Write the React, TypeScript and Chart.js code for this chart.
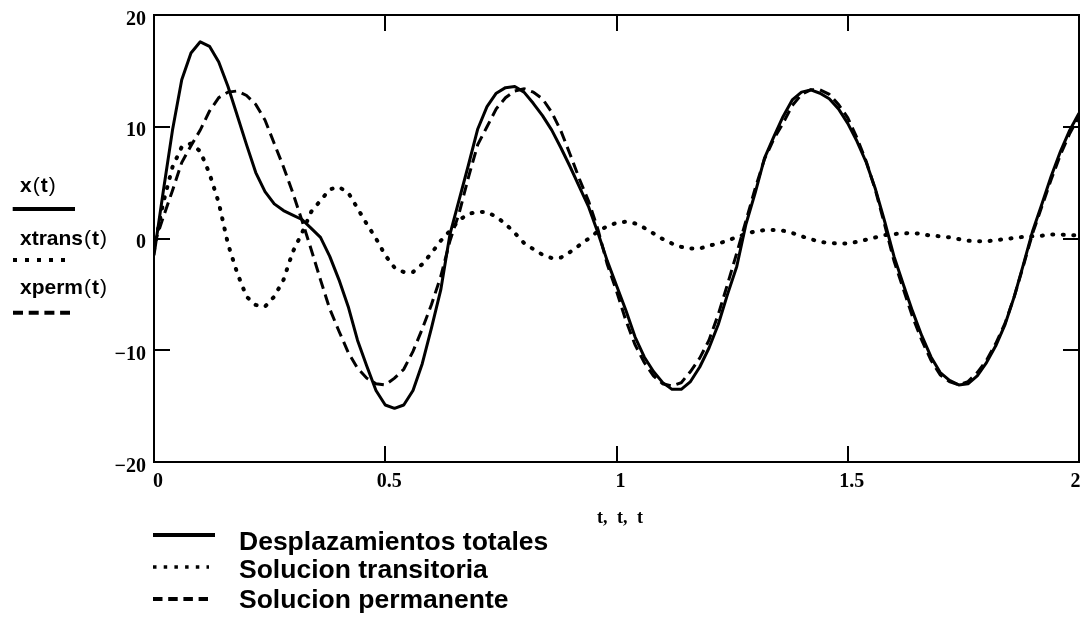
import React, { useEffect, useRef } from "react";
import { Chart, registerables } from "chart.js";

Chart.register(...registerables);

// time samples (s)
const tValues = [
  0, 0.02, 0.04, 0.06, 0.08, 0.1, 0.12, 0.14, 0.16, 0.18,
  0.2, 0.22, 0.24, 0.26, 0.28, 0.3, 0.32, 0.34, 0.36, 0.38,
  0.4, 0.42, 0.44, 0.46, 0.48, 0.5, 0.52, 0.54, 0.56, 0.58,
  0.6, 0.62, 0.64, 0.66, 0.68, 0.7, 0.72, 0.74, 0.76, 0.78,
  0.8, 0.82, 0.84, 0.86, 0.88, 0.9, 0.92, 0.94, 0.96, 0.98,
  1.0, 1.02, 1.04, 1.06, 1.08, 1.1, 1.12, 1.14, 1.16, 1.18,
  1.2, 1.22, 1.24, 1.26, 1.28, 1.3, 1.32, 1.34, 1.36, 1.38,
  1.4, 1.42, 1.44, 1.46, 1.48, 1.5, 1.52, 1.54, 1.56, 1.58,
  1.6, 1.62, 1.64, 1.66, 1.68, 1.7, 1.72, 1.74, 1.76, 1.78,
  1.8, 1.82, 1.84, 1.86, 1.88, 1.9, 1.92, 1.94, 1.96, 1.98,
  2.0,
];

// x(t): desplazamientos totales
const xTotal = [
  -1.5, 4.2, 9.7, 14.2, 16.6, 17.6, 17.2, 15.8, 13.6, 11.0,
  8.4, 5.9, 4.2, 3.1, 2.5, 2.1, 1.7, 0.9, 0.1, -1.6,
  -3.7, -6.1, -9.1, -11.4, -13.6, -14.9, -15.2, -14.9, -13.6, -11.2,
  -8.0, -4.6, 0.4, 3.5, 6.6, 9.8, 11.8, 13.0, 13.5, 13.6,
  13.1, 12.1, 11.0, 9.7, 8.1, 6.4, 4.6, 2.8, 0.5, -2.0,
  -4.2, -6.4, -8.8, -10.6, -11.9, -12.9, -13.5, -13.5, -12.8, -11.5,
  -9.8, -7.7, -5.0, -2.5, 1.3, 4.1, 7.2, 9.1, 10.9, 12.4,
  13.1, 13.3, 13.0, 12.5, 11.6, 10.3, 8.7, 6.8, 4.4, 1.5,
  -1.6, -4.1, -6.5, -8.7, -10.6, -12.0, -12.7, -13.1, -13.0, -12.3,
  -11.1, -9.6, -7.7, -5.2, -2.3, 0.7, 3.1, 5.6, 7.8, 9.7,
  11.2,
];

// xtrans(t): solucion transitoria
const xTrans = [
  -1.0, 3.2, 6.4, 8.2, 8.5, 7.8, 5.8, 3.2, -0.5, -3.1,
  -5.2, -5.95, -6.1, -5.2, -3.7, -1.2, 0.5, 2.4, 3.4, 4.4,
  4.6, 4.1, 2.7, 1.3, 0.0, -1.5, -2.6, -3.0, -3.0, -2.3,
  -1.3, -0.2, 0.7, 1.65, 2.2, 2.4, 2.35, 1.95, 1.3, 0.5,
  -0.4, -0.95, -1.45, -1.75, -1.7, -1.2, -0.6, 0.0, 0.65, 1.1,
  1.4, 1.5, 1.35, 0.95, 0.45, -0.05, -0.45, -0.75, -0.9, -0.9,
  -0.65, -0.45, -0.2, 0.15, 0.4, 0.65, 0.75, 0.75, 0.7, 0.5,
  0.2, -0.05, -0.3, -0.4, -0.45, -0.45, -0.3, -0.1, 0.1, 0.3,
  0.4, 0.45, 0.5, 0.4, 0.25, 0.2, 0.1, -0.05, -0.2, -0.25,
  -0.25, -0.15, -0.05, 0.05, 0.15, 0.2, 0.25, 0.35, 0.35, 0.3,
  0.3,
];

// xperm(t): solucion permanente
const xPerm = [
  -0.6, 1.9, 4.3, 6.8, 8.3, 9.7, 11.4, 12.6, 13.1, 13.2,
  12.8, 12.0, 10.6, 8.5, 6.4, 4.1, 1.6, -1.0, -3.7, -6.3,
  -8.3, -10.2, -11.6, -12.5, -13.0, -13.1, -12.5, -11.7, -10.1, -8.1,
  -5.9, -3.4, -0.2, 2.3, 5.5, 8.4, 10.0, 11.6, 12.6, 13.2,
  13.4, 13.1, 12.5, 11.3, 9.6, 7.5, 5.3, 3.3, 0.8, -2.3,
  -4.7, -7.3, -9.5, -11.1, -12.3, -13.0, -13.2, -12.9, -11.9, -10.7,
  -9.1, -6.8, -4.1, -1.3, 1.6, 4.5, 7.1, 8.9, 10.3, 11.9,
  12.9, 13.3, 13.3, 12.9, 12.0, 10.8, 9.0, 6.9, 4.3, 1.2,
  -2.0, -4.5, -7.0, -9.1, -10.9, -12.2, -12.8, -13.1, -12.8, -12.0,
  -10.9, -9.4, -7.6, -5.2, -2.4, 0.5, 2.9, 5.3, 7.5, 9.4,
  10.9,
];

const seriesNames = ["Desplazamientos totales", "Solucion transitoria", "Solucion permanente"];
const axisNames = ["x", "xtrans", "xperm"];
const xTickValues = [0, 0.5, 1, 1.5, 2];
const xTickLabels = ["0", "0.5", "1", "1.5", "2"];
const yTickValues = [-20, -10, 0, 10, 20];
const yTickLabels = ["\u221220", "\u221210", "0", "10", "20"];
const xAxisTitle = "t, t, t";

const SERIF = "'Liberation Serif', 'Times New Roman', serif";
const SANS = "'Liberation Sans', Arial, sans-serif";

const framePlugin = {
  id: "frameTicks",
  afterDatasetsDraw(chart: any) {
    const { ctx, chartArea, scales } = chart;
    const { left, right, top, bottom } = chartArea;
    const len = 16;
    ctx.save();
    ctx.strokeStyle = "#000";
    ctx.lineWidth = 2;
    ctx.strokeRect(left, top, right - left, bottom - top);
    ctx.beginPath();
    scales.x.ticks.forEach((t: any) => {
      const px = Math.round(scales.x.getPixelForValue(t.value));
      ctx.moveTo(px, bottom);
      ctx.lineTo(px, bottom - len);
      ctx.moveTo(px, top);
      ctx.lineTo(px, top + len);
    });
    scales.y.ticks.forEach((t: any) => {
      const py = Math.round(scales.y.getPixelForValue(t.value));
      ctx.moveTo(left, py);
      ctx.lineTo(left + len, py);
      ctx.moveTo(right, py);
      ctx.lineTo(right - len, py);
    });
    ctx.stroke();
    ctx.restore();
  },
};

const toPoints = (ys: number[]) => tValues.map((t, i) => ({ x: t, y: ys[i] }));

const zeroPadding = (s: any) => {
  s.paddingTop = 0;
  s.paddingBottom = 0;
  s.paddingLeft = 0;
  s.paddingRight = 0;
};

function FnLabel({ name, top }: { name: string; top: number }) {
  return (
    <div
      style={{
        position: "absolute",
        left: 20,
        top,
        fontFamily: SANS,
        fontSize: 21,
        lineHeight: "21px",
        fontWeight: "bold",
        whiteSpace: "nowrap",
        color: "#000",
      }}
    >
      {name}
      <span style={{ fontWeight: "normal", marginLeft: 1 }}>(</span>
      <span style={{ margin: "0 1px" }}>t</span>
      <span style={{ fontWeight: "normal" }}>)</span>
    </div>
  );
}

function LegendText({ text, top }: { text: string; top: number }) {
  return (
    <div
      style={{
        position: "absolute",
        left: 239,
        top,
        fontFamily: SANS,
        fontSize: 26.5,
        lineHeight: "26.5px",
        fontWeight: "bold",
        whiteSpace: "nowrap",
        color: "#000",
      }}
    >
      {text}
    </div>
  );
}

export default function App() {
  const canvasRef = useRef<HTMLCanvasElement | null>(null);

  useEffect(() => {
    if (!canvasRef.current) return;
    const chart = new Chart(canvasRef.current, {
      type: "line",
      data: {
        datasets: [
          {
            label: seriesNames[0],
            data: toPoints(xTotal),
            borderColor: "#000",
            borderWidth: 3,
            pointRadius: 0,
            tension: 0,
            borderJoinStyle: "round",
            fill: false,
          },
          {
            label: seriesNames[1],
            data: toPoints(xTrans),
            borderColor: "#000",
            borderWidth: 4,
            borderDash: [1, 9.5],
            borderCapStyle: "round",
            pointRadius: 0,
            tension: 0,
            fill: false,
          },
          {
            label: seriesNames[2],
            data: toPoints(xPerm),
            borderColor: "#000",
            borderWidth: 3,
            borderDash: [11, 6],
            borderCapStyle: "butt",
            pointRadius: 0,
            tension: 0,
            fill: false,
          },
        ],
      },
      options: {
        animation: false,
        responsive: false,
        devicePixelRatio: 1,
        layout: { padding: { left: 0, top: 15, right: 10, bottom: 0 } },
        plugins: { legend: { display: false }, tooltip: { enabled: false } },
        scales: {
          x: {
            type: "linear",
            min: 0,
            max: 2,
            afterBuildTicks: (s: any) => {
              s.ticks = xTickValues.map((v) => ({ value: v }));
            },
            afterFit: (s: any) => {
              s.height = 155;
              zeroPadding(s);
            },
            grid: { display: false, drawTicks: false },
            border: { display: false },
            ticks: {
              autoSkip: false,
              maxRotation: 0,
              color: "#000",
              padding: 7.5,
              labelOffset: 4,
              font: { family: SERIF, size: 20, weight: "bold" },
              callback: (v: any) => {
                const i = xTickValues.indexOf(Number(v));
                if (i < 0) return "";
                // last label sits inside the frame edge, as in the original
                return i === xTickValues.length - 1 ? xTickLabels[i] + "\u00a0\u00a0\u00a0" : xTickLabels[i];
              },
            },
          },
          y: {
            type: "linear",
            min: -20,
            max: 20,
            afterBuildTicks: (s: any) => {
              s.ticks = yTickValues.map((v) => ({ value: v }));
            },
            afterFit: (s: any) => {
              s.width = 154;
              zeroPadding(s);
            },
            grid: { display: false, drawTicks: false },
            border: { display: false },
            ticks: {
              autoSkip: false,
              color: "#000",
              padding: 8,
              labelOffset: 4.5,
              font: { family: SERIF, size: 20, weight: "bold" },
              callback: (v: any) => {
                const i = yTickValues.indexOf(Number(v));
                return i >= 0 ? yTickLabels[i] : "";
              },
            },
          },
        },
      },
      plugins: [framePlugin],
    } as any);
    return () => chart.destroy();
  }, []);

  return (
    <div style={{ position: "absolute", left: 0, top: 0, width: 1089, height: 617, background: "#fff", overflow: "hidden" }}>
      <canvas ref={canvasRef} width={1089} height={617} style={{ position: "absolute", left: 0, top: 0, width: 1089, height: 617, display: "block" }} />

      <FnLabel name={axisNames[0]} top={174} />
      <FnLabel name={axisNames[1]} top={226.5} />
      <FnLabel name={axisNames[2]} top={275.5} />

      <div
        style={{
          position: "absolute",
          left: 520,
          width: 200,
          top: 508,
          textAlign: "center",
          fontFamily: SERIF,
          fontSize: 18,
          lineHeight: "18px",
          fontWeight: "bold",
          wordSpacing: 5,
          whiteSpace: "nowrap",
          color: "#000",
        }}
      >
        {xAxisTitle}
      </div>

      <LegendText text={seriesNames[0]} top={528} />
      <LegendText text={seriesNames[1]} top={556} />
      <LegendText text={seriesNames[2]} top={586} />

      <svg width={1089} height={617} style={{ position: "absolute", left: 0, top: 0, pointerEvents: "none" }}>
        <line x1={12.7} y1={209} x2={75} y2={209} stroke="#000" strokeWidth={4} />
        <line x1={13} y1={260} x2={65} y2={260} stroke="#000" strokeWidth={4} strokeDasharray="4 8" />
        <line x1={13} y1={312.7} x2={70} y2={312.7} stroke="#000" strokeWidth={4} strokeDasharray="10 5.7" />
        <line x1={153} y1={535} x2={215} y2={535} stroke="#000" strokeWidth={4} />
        <line x1={153} y1={567} x2={209} y2={567} stroke="#000" strokeWidth={3.5} strokeDasharray="3.5 7.2" />
        <line x1={153} y1={599} x2={208} y2={599} stroke="#000" strokeWidth={4} strokeDasharray="9.5 5.7" />
      </svg>
    </div>
  );
}
